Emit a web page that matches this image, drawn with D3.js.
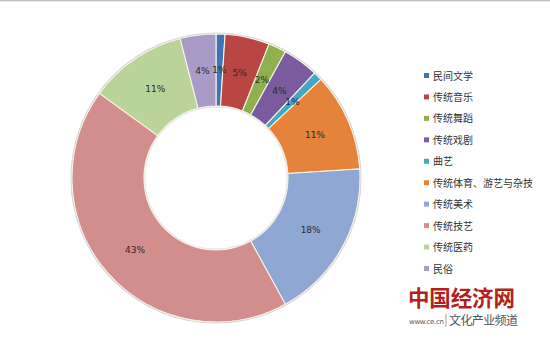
<!DOCTYPE html>
<html>
<head>
<meta charset="utf-8">
<script src="https://cdn.jsdelivr.net/npm/d3@7/dist/d3.min.js"></script>
<style>
  html, body { margin: 0; padding: 0; background: #fff; }
  svg { display: block; }
</style>
</head>
<body>
<svg id="chart" width="550" height="342"></svg>
<script>
// Intangible heritage items by category (share of total, %)
const categories = ["民间文学", "传统音乐", "传统舞蹈", "传统戏剧", "曲艺",
  "传统体育、游艺与杂技", "传统美术", "传统技艺", "传统医药", "民俗"];
const shares = [1, 5, 2, 4, 1, 11, 18, 43, 11, 4];
const labels = ["1%", "5%", "2%", "4%", "1%", "11%", "18%", "43%", "11%", "4%"];
const colors = ["#3E74B5", "#B84744", "#90B050", "#7A5C9E", "#45A8C2",
  "#E6833A", "#8FA8D3", "#D28E8D", "#BAD39A", "#A99BC6"];

const svg = d3.select("#chart");
const W = 550, H = 342;

// thin rule along the top edge
svg.append("line")
  .attr("x1", 0).attr("x2", W).attr("y1", 0.5).attr("y2", 0.5)
  .attr("stroke", "#bdbdbd").attr("stroke-width", 1.5);

const cx = 216, cy = 178, rOuter = 144, rInner = 72;

const data = categories.map((c, i) => ({ name: c, value: shares[i], label: labels[i], color: colors[i] }));
const pie = d3.pie().value(d => d.value).sort(null);
const arcs = pie(data);
const arc = d3.arc().innerRadius(rInner).outerRadius(rOuter);
const labelArc = d3.arc().innerRadius(108).outerRadius(108);

const g = svg.append("g").attr("transform", `translate(${cx},${cy})`);

// soft outer rim
g.append("circle").attr("r", rOuter + 0.8)
  .attr("fill", "none").attr("stroke", "#d6d6d6").attr("stroke-width", 1.6);
g.append("circle").attr("r", rInner - 0.8)
  .attr("fill", "none").attr("stroke", "#e2e2e2").attr("stroke-width", 1.2);

g.selectAll("path.slice").data(arcs).enter().append("path")
  .attr("class", "slice")
  .attr("d", arc)
  .attr("fill", d => d.data.color)
  .attr("stroke", "#f6f3e6")
  .attr("stroke-width", 1.1);

g.selectAll("text.pct").data(arcs).enter().append("text")
  .attr("class", "pct")
  .attr("transform", d => `translate(${labelArc.centroid(d)})`)
  .attr("text-anchor", "middle")
  .attr("dy", "0.35em")
  .attr("font-family", "'DejaVu Sans', sans-serif")
  .attr("font-size", 9)
  .attr("fill", "#2b2b2b")
  .text(d => d.data.label);

// legend
const legendY = d3.scalePoint().domain(categories).range([76, 269]);
const lg = svg.append("g");
const items = lg.selectAll("g").data(data).enter().append("g")
  .attr("transform", d => `translate(0,${legendY(d.name)})`);
items.append("rect").attr("x", 424).attr("y", -3).attr("width", 5).attr("height", 5)
  .attr("fill", d => d.color);
items.append("text").attr("x", 433).attr("dy", "0.35em")
  .attr("font-family", "'Noto Sans CJK SC', sans-serif")
  .attr("font-size", 10).attr("fill", "#333")
  .text(d => d.name);

// site mark
const mark = svg.append("g");
mark.append("text").attr("x", 408).attr("y", 306)
  .attr("font-family", "'Noto Sans CJK SC', sans-serif")
  .attr("font-weight", "bold").attr("font-size", 21.5)
  .attr("fill", "#B21F1C").attr("textLength", 107)
  .text("中国经济网");
mark.append("text").attr("x", 409).attr("y", 324)
  .attr("font-family", "'DejaVu Sans', sans-serif")
  .attr("font-size", 7).attr("fill", "#555")
  .attr("textLength", 35)
  .text("www.ce.cn");
mark.append("line").attr("x1", 446).attr("x2", 446).attr("y1", 314).attr("y2", 327)
  .attr("stroke", "#888").attr("stroke-width", 0.8);
mark.append("text").attr("x", 449).attr("y", 325)
  .attr("font-family", "'Noto Sans CJK SC', sans-serif")
  .attr("font-size", 12).attr("fill", "#555")
  .attr("textLength", 69)
  .text("文化产业频道");
</script>
</body>
</html>
